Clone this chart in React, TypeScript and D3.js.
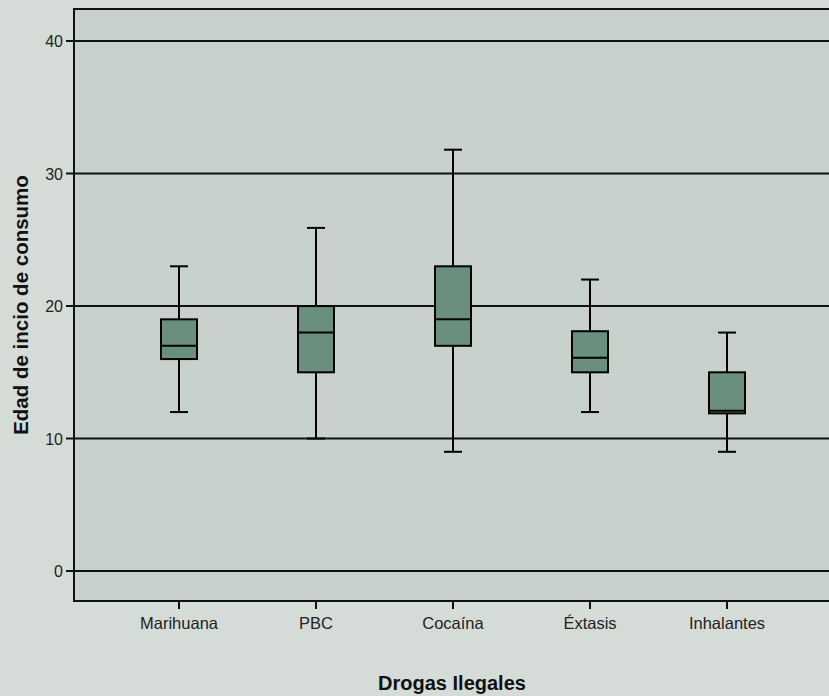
import React from "react";
import * as d3 from "d3";

const categories = ["Marihuana", "PBC", "Cocaína", "Éxtasis", "Inhalantes"];
const lowerWhisker = [12, 10, 9, 12, 9];
const q1Values = [16, 15, 17, 15, 11.9];
const medianValues = [17, 18, 19, 16.1, 12.1];
const q3Values = [19, 20, 23, 18.1, 15];
const upperWhisker = [23, 25.9, 31.8, 22, 18];
const yTicks = [0, 10, 20, 30, 40];

const W = 829;
const H = 696;
const left = 74;
const top = 9;
const bottom = 601;

export default function App() {
  const y = d3.scaleLinear().domain([-2.26, 42.42]).range([bottom, top]);
  const x = d3.scaleBand<string>().domain(categories).range([110.5, 795.5]);
  const boxW = 36;
  const capW = 18;

  return (
    <svg
      width={W}
      height={H}
      style={{ position: "absolute", left: 0, top: 0, fontFamily: "'Liberation Sans', Arial, sans-serif" }}
    >
      <rect x={0} y={0} width={W} height={H} fill="#d5dcd8" />
      <rect x={left} y={top} width={W - left + 10} height={bottom - top} fill="#c8d1cc" stroke="#111" strokeWidth={2} />

      {yTicks.map((t) => (
        <g key={t}>
          <line x1={left - 8} x2={W} y1={y(t)} y2={y(t)} stroke="#111" strokeWidth={2} />
          <text x={left - 11} y={y(t)} dy="0.38em" textAnchor="end" fontSize={16} fill="#222">
            {t}
          </text>
        </g>
      ))}

      {categories.map((c, i) => {
        const cx = x(c)! + x.bandwidth() / 2;
        return (
          <g key={c}>
            <line x1={cx} x2={cx} y1={bottom} y2={bottom + 8} stroke="#111" strokeWidth={2} />
            <text x={cx} y={bottom + 28} textAnchor="middle" fontSize={16.5} fill="#222">
              {c}
            </text>
            <line x1={cx} x2={cx} y1={y(upperWhisker[i])} y2={y(q3Values[i])} stroke="#000" strokeWidth={2} />
            <line x1={cx} x2={cx} y1={y(q1Values[i])} y2={y(lowerWhisker[i])} stroke="#000" strokeWidth={2} />
            <line x1={cx - capW / 2} x2={cx + capW / 2} y1={y(upperWhisker[i])} y2={y(upperWhisker[i])} stroke="#000" strokeWidth={2} />
            <line x1={cx - capW / 2} x2={cx + capW / 2} y1={y(lowerWhisker[i])} y2={y(lowerWhisker[i])} stroke="#000" strokeWidth={2} />
            <rect
              x={cx - boxW / 2}
              y={y(q3Values[i])}
              width={boxW}
              height={y(q1Values[i]) - y(q3Values[i])}
              fill="#6a8f7e"
              stroke="#000"
              strokeWidth={2}
            />
            <line x1={cx - boxW / 2} x2={cx + boxW / 2} y1={y(medianValues[i])} y2={y(medianValues[i])} stroke="#000" strokeWidth={2} />
          </g>
        );
      })}

      <text
        transform={`translate(28,${(top + bottom) / 2}) rotate(-90)`}
        textAnchor="middle"
        fontSize={20.5}
        fontWeight="bold"
        fill="#111"
      >
        Edad de incio de consumo
      </text>
      <text x={452} y={690} textAnchor="middle" fontSize={20} fontWeight="bold" fill="#111">
        Drogas Ilegales
      </text>
    </svg>
  );
}
